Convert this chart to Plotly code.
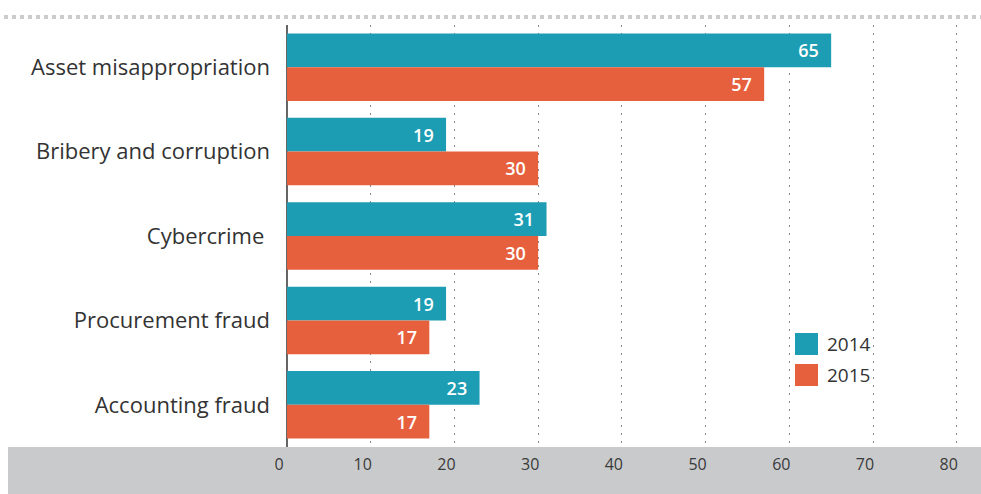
import plotly.graph_objects as go

categories = ["Asset misappropriation", "Bribery and corruption", "Cybercrime ",
              "Procurement fraud", "Accounting fraud"]
values_2014 = [65, 19, 31, 19, 23]
values_2015 = [57, 30, 30, 17, 17]
x_ticks = [0, 10, 20, 30, 40, 50, 60, 70, 80]

TEAL = "#1c9db3"
ORANGE = "#e6603e"
FONT = "Open Sans"

W, H = 981, 494
ML, MR, MT, MB = 287, 0, 25, 47
PW = W - ML - MR
PH = H - MT - MB


def px_x(p):
    return (p - ML) / PW


def px_y(p):
    return (H - MB - p) / PH


fig = go.Figure()
for name, vals, col in (("2014", values_2014, TEAL), ("2015", values_2015, ORANGE)):
    fig.add_trace(go.Bar(
        y=categories, x=vals, orientation="h", name=name,
        marker=dict(color=col, line=dict(width=0)),
        texttemplate="%{x}\u00a0\u00a0", textposition="inside",
        insidetextanchor="end",
        textfont=dict(color="white", size=18, family=FONT, weight=600),
        showlegend=False,
    ))

shapes = [
    # grey band under the axis
    dict(type="rect", xref="paper", yref="paper", x0=px_x(8), x1=1,
         y0=px_y(494), y1=px_y(447), fillcolor="#c9cacc", line=dict(width=0),
         layer="below"),
    # dotted separator at top
    dict(type="line", xref="paper", yref="paper", x0=px_x(4), x1=1,
         y0=px_y(17), y1=px_y(17), line=dict(color="#cccccc", width=4, dash="dot")),
    # legend swatches
    dict(type="rect", xref="paper", yref="paper", x0=px_x(795), x1=px_x(818),
         y0=px_y(355), y1=px_y(333), fillcolor=TEAL, line=dict(width=0)),
    dict(type="rect", xref="paper", yref="paper", x0=px_x(795), x1=px_x(818),
         y0=px_y(386), y1=px_y(364), fillcolor=ORANGE, line=dict(width=0)),
]

annotations = [
    dict(xref="paper", yref="paper", x=px_x(825), y=px_y(344), text="2014",
         showarrow=False, xanchor="left", yanchor="middle",
         font=dict(size=19, color="#333333", family=FONT)),
    dict(xref="paper", yref="paper", x=px_x(825), y=px_y(375), text="2015",
         showarrow=False, xanchor="left", yanchor="middle",
         font=dict(size=19, color="#333333", family=FONT)),
]

fig.update_layout(
    width=W, height=H,
    margin=dict(l=ML, r=MR, t=MT, b=MB, pad=0),
    paper_bgcolor="white", plot_bgcolor="white",
    barmode="group", bargap=0.2, bargroupgap=0.0,
    shapes=shapes, annotations=annotations,
    font=dict(family=FONT, color="#333333"),
    xaxis=dict(
        range=[0, 82.9], tickvals=x_ticks, ticktext=[str(t) for t in x_ticks],
        showgrid=True, gridcolor="#8a8a8a", gridwidth=1, griddash="2px,6px",
        zeroline=True, zerolinecolor="#666666", zerolinewidth=1.5,
        showline=False, ticks="", ticklabelstandoff=6, ticklabelshift=-8,
        tickfont=dict(size=16, color="#3a3a3a", family=FONT),
        fixedrange=True,
    ),
    yaxis=dict(
        autorange="reversed", showgrid=False, zeroline=False, showline=False,
        ticks="", ticklabelstandoff=16,
        tickfont=dict(size=22, color="#333333", family=FONT),
    ),
)

fig.write_html("out.html")
